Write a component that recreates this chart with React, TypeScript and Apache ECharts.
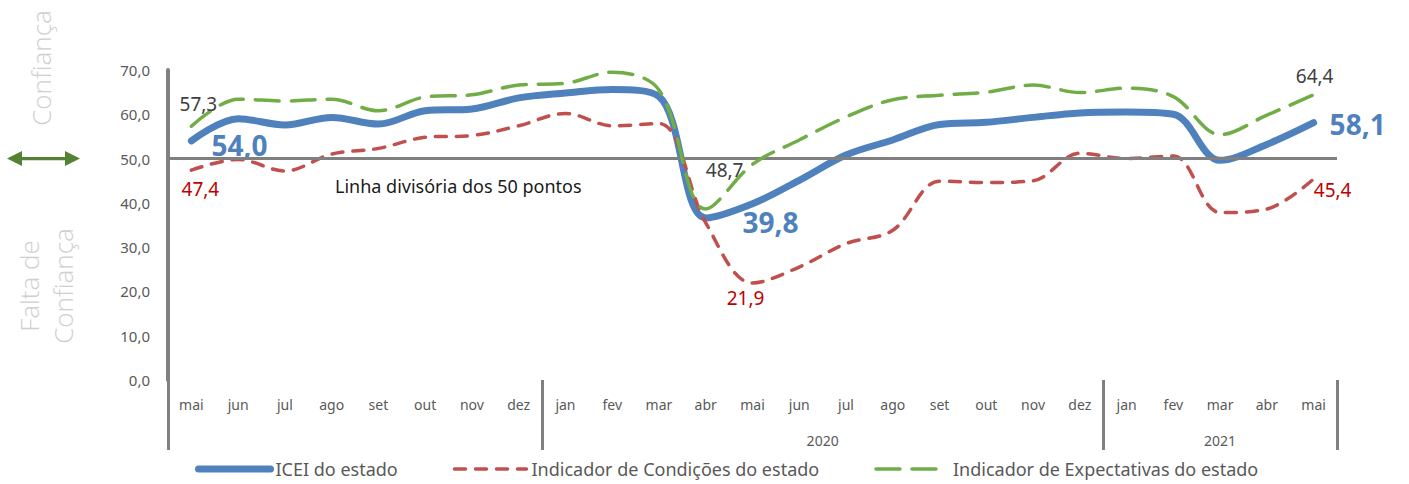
import React, { useEffect, useRef } from "react";
import * as echarts from "echarts";

const months = ["mai", "jun", "jul", "ago", "set", "out", "nov", "dez", "jan", "fev", "mar", "abr", "mai", "jun", "jul", "ago", "set", "out", "nov", "dez", "jan", "fev", "mar", "abr", "mai"];
const yearLabels = ["", "2020", "2021"];
const yearSizes = [8, 12, 5];

const seriesNames = ["ICEI do estado", "Indicador de Condições do estado", "Indicador de Expectativas do estado"];
const icei = [54.0, 59.0, 57.6, 59.3, 57.8, 60.8, 61.2, 63.7, 64.8, 65.6, 64.0, 36.6, 39.8, 45.1, 50.8, 54.2, 57.7, 58.2, 59.3, 60.3, 60.5, 60.0, 49.6, 53.2, 58.1];
const condicoes = [47.4, 49.8, 47.2, 51.0, 52.3, 54.8, 55.2, 57.4, 60.2, 57.4, 57.9, 35.5, 21.9, 25.5, 30.8, 33.8, 44.9, 44.6, 45.0, 51.2, 50.0, 50.6, 37.8, 38.6, 45.4];
const expectativas = [57.3, 63.4, 63.0, 63.4, 60.8, 63.9, 64.4, 66.6, 67.0, 69.5, 65.5, 38.6, 48.7, 54.2, 59.4, 63.3, 64.3, 65.0, 66.6, 64.9, 65.9, 64.0, 55.4, 59.8, 64.4];
const labeledIndices = [0, 12, 24];

const yMin = 0;
const yMax = 70;
const yStep = 10;
const dividerValue = 50;
const dividerText = "Linha divisória dos 50 pontos";
const upperSideText = "Confiança";
const lowerSideText = "Falta de\nConfiança";

const FONT = "'Noto Sans', 'Open Sans', sans-serif";
const fmt = (v: number) => v.toFixed(1).replace(".", ",");

export default function App() {
  const ref = useRef<HTMLDivElement>(null);
  useEffect(() => {
    document.body.style.margin = "0";
    const el = ref.current!;
    const chart = echarts.init(el, null, { renderer: "svg" });

    const boundaries: number[] = [];
    let acc = 0;
    yearSizes.forEach((s) => {
      boundaries.push(acc);
      acc += s;
    });

    const blueLabels: any[] = [
      { position: "right", distance: 20, offset: [0, 4] },
      { position: "bottom", distance: 4, offset: [18, 0] },
      { position: "right", distance: 16, offset: [0, 1] },
    ];
    const redLabels: any[] = [
      { position: "bottom", distance: 9, offset: [9, 0] },
      { position: "bottom", distance: 5, offset: [-7, 0] },
      { position: "bottom", distance: 2, offset: [19, 0] },
    ];
    const greenLabels: any[] = [
      { position: "top", distance: 13, offset: [7, 0] },
      { position: "left", distance: 9, offset: [0, 6] },
      { position: "top", distance: 9, offset: [1, 0] },
    ];

    const mk = (vals: number[], lab: any[], style: any) =>
      vals.map((v, i) => {
        const k = labeledIndices.indexOf(i);
        if (k < 0) return v;
        return { value: v, label: { show: true, formatter: fmt(v), ...style, ...lab[k] } };
      });

    const option: any = {
      animation: false,
      textStyle: { fontFamily: FONT },
      grid: { left: 168, right: 72, top: 70, bottom: 104, containLabel: false },
      legend: {
        data: seriesNames,
        left: 190,
        bottom: 1,
        itemWidth: 72,
        itemHeight: 14,
        itemGap: 55,
        textStyle: { fontFamily: FONT, fontSize: 18, color: "#595959" },
        itemStyle: { opacity: 0, borderWidth: 0 },
        lineStyle: { width: "inherit" },
      },
      xAxis: {
        type: "category",
        data: months,
        boundaryGap: true,
        axisLine: { show: false },
        axisTick: {
          show: true,
          interval: (i: number) => boundaries.includes(i),
          length: 70,
          lineStyle: { color: "#808080", width: 3 },
        },
        axisLabel: { interval: 0, color: "#595959", fontSize: 14, margin: 17 },
        splitLine: { show: false },
      },
      yAxis: {
        type: "value",
        min: yMin,
        max: yMax,
        interval: yStep,
        axisLine: { show: true, lineStyle: { color: "#808080", width: 4 } },
        axisTick: { show: false },
        splitLine: { show: false },
        axisLabel: { formatter: (v: number) => fmt(v), color: "#595959", fontSize: 15, margin: 18 },
      },
      series: [
        {
          name: "divider",
          type: "line",
          data: [],
          z: 1,
          markLine: {
            silent: true,
            symbol: ["none", "none"],
            label: { show: false },
            lineStyle: { color: "#808080", width: 3, type: "solid" },
            data: [{ yAxis: dividerValue }],
          },
        },
        {
          name: seriesNames[0],
          type: "line",
          z: 3,
          smooth: 0.35,
          symbol: "circle",
          symbolSize: 0,
          showSymbol: true,
          lineStyle: { color: "#4F81BD", width: 7, cap: "round" },
          itemStyle: { color: "#4F81BD" },
          label: { show: false },
          data: mk(icei, blueLabels, { color: "#4F81BD", fontSize: 28, fontWeight: "bold", fontFamily: FONT }),
        },
        {
          name: seriesNames[1],
          type: "line",
          z: 4,
          smooth: 0.35,
          symbol: "circle",
          symbolSize: 0,
          showSymbol: true,
          lineStyle: { color: "#C0504D", width: 3.5, type: [11, 10], cap: "round" },
          itemStyle: { color: "#C0504D" },
          label: { show: false },
          data: mk(condicoes, redLabels, { color: "#C00000", fontSize: 19, fontFamily: FONT }),
        },
        {
          name: seriesNames[2],
          type: "line",
          z: 5,
          smooth: 0.35,
          symbol: "circle",
          symbolSize: 0,
          showSymbol: true,
          lineStyle: { color: "#70AD47", width: 3.5, type: [24, 12], cap: "round" },
          itemStyle: { color: "#70AD47" },
          label: { show: false },
          data: mk(expectativas, greenLabels, { color: "#404040", fontSize: 19, fontFamily: FONT }),
        },
      ],
    };
    chart.setOption(option);

    const xPx = (i: number) => chart.convertToPixel({ xAxisIndex: 0 }, i) as number;
    const yPx = (v: number) => chart.convertToPixel({ yAxisIndex: 0 }, v) as number;
    const bw = xPx(1) - xPx(0);
    const y0 = yPx(yMin);
    const y50 = yPx(dividerValue);

    const graphic: any[] = [];
    let start = 0;
    yearSizes.forEach((s, k) => {
      const left = xPx(start) - bw / 2;
      const right = xPx(start + s - 1) + bw / 2;
      if (yearLabels[k]) {
        graphic.push({
          type: "text",
          x: (left + right) / 2,
          y: y0 + 60,
          style: { text: yearLabels[k], align: "center", verticalAlign: "middle", fill: "#595959", fontSize: 14, fontFamily: FONT },
        });
      }
      start += s;
    });

    graphic.push({
      type: "text",
      x: 335,
      y: y50 + 27,
      style: { text: dividerText, align: "left", verticalAlign: "middle", fill: "#1a1a1a", fontSize: 18, fontFamily: FONT },
    });
    graphic.push({
      type: "text",
      x: 41,
      y: 68,
      rotation: Math.PI / 2,
      style: { text: upperSideText, align: "center", verticalAlign: "middle", fill: "#CFCFCF", fontSize: 26, fontWeight: 300, fontFamily: "'Open Sans', 'Noto Sans', sans-serif" },
    });
    graphic.push({
      type: "text",
      x: 46,
      y: 286,
      rotation: Math.PI / 2,
      style: { text: lowerSideText, align: "center", verticalAlign: "middle", lineHeight: 34, fill: "#CFCFCF", fontSize: 26, fontWeight: 300, fontFamily: "'Open Sans', 'Noto Sans', sans-serif" },
    });
    graphic.push({
      type: "polygon",
      shape: {
        points: [
          [7, y50], [22, y50 - 7.5], [22, y50 - 1.6], [65, y50 - 1.6], [65, y50 - 7.5], [80, y50],
          [65, y50 + 7.5], [65, y50 + 1.6], [22, y50 + 1.6], [22, y50 + 7.5],
        ],
      },
      style: { fill: "#548235" },
    });

    chart.setOption({ graphic });
    return () => chart.dispose();
  }, []);
  return <div ref={ref} style={{ width: 1409, height: 484 }} />;
}
